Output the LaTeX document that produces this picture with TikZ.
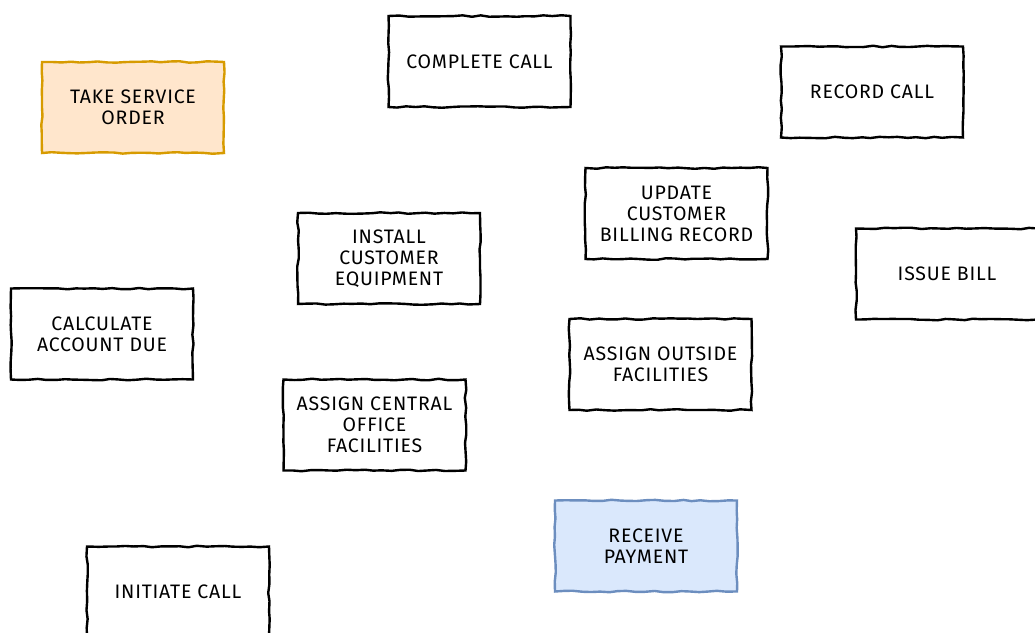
\documentclass[tikz,border=0pt]{standalone}
\usepackage{fontspec}
\setmainfont{Fira Sans}[LetterSpace=4]
\usetikzlibrary{decorations.pathmorphing}
\definecolor{orangefill}{HTML}{FFE6CC}
\definecolor{orangeline}{HTML}{D79B00}
\definecolor{bluefill}{HTML}{DAE8FC}
\definecolor{blueline}{HTML}{6C8EBF}
\begin{document}
\begin{tikzpicture}[x=1pt,y=-1pt]
\tikzstyle{task}=[draw=black, line width=2.4pt, fill=white, align=center,
  minimum width=182pt, minimum height=91pt, inner sep=0pt,
  font=\fontsize{19.5}{21}\selectfont,
  decorate, decoration={random steps, segment length=9pt, amplitude=0.8pt}]
\tikzstyle{start}=[task, draw=orangeline, fill=orangefill]
\tikzstyle{finish}=[task, draw=blueline, fill=bluefill]
\useasboundingbox (0,0) rectangle (1035,632);
\node [task] (complete) at (479.5,61.5) {COMPLETE CALL};
\node [start] (order) at (133,107.5) {TAKE SERVICE\\ORDER};
\node [task] (record) at (872,92) {RECORD CALL};
\node [task] (billing) at (676.5,213.5) {UPDATE\\CUSTOMER\\BILLING RECORD};
\node [task] (install) at (389,258.5) {INSTALL\\CUSTOMER\\EQUIPMENT};
\node [task] (bill) at (947,274) {ISSUE BILL};
\node [task] (account) at (102,334) {CALCULATE\\ACCOUNT DUE};
\node [task] (outside) at (660.5,364.5) {ASSIGN OUTSIDE\\FACILITIES};
\node [task] (central) at (374.5,425) {ASSIGN CENTRAL\\OFFICE\\FACILITIES};
\node [finish] (payment) at (646,546) {RECEIVE\\PAYMENT};
\node [task] (initiate) at (178,592) {INITIATE CALL};
\end{tikzpicture}
\end{document}
